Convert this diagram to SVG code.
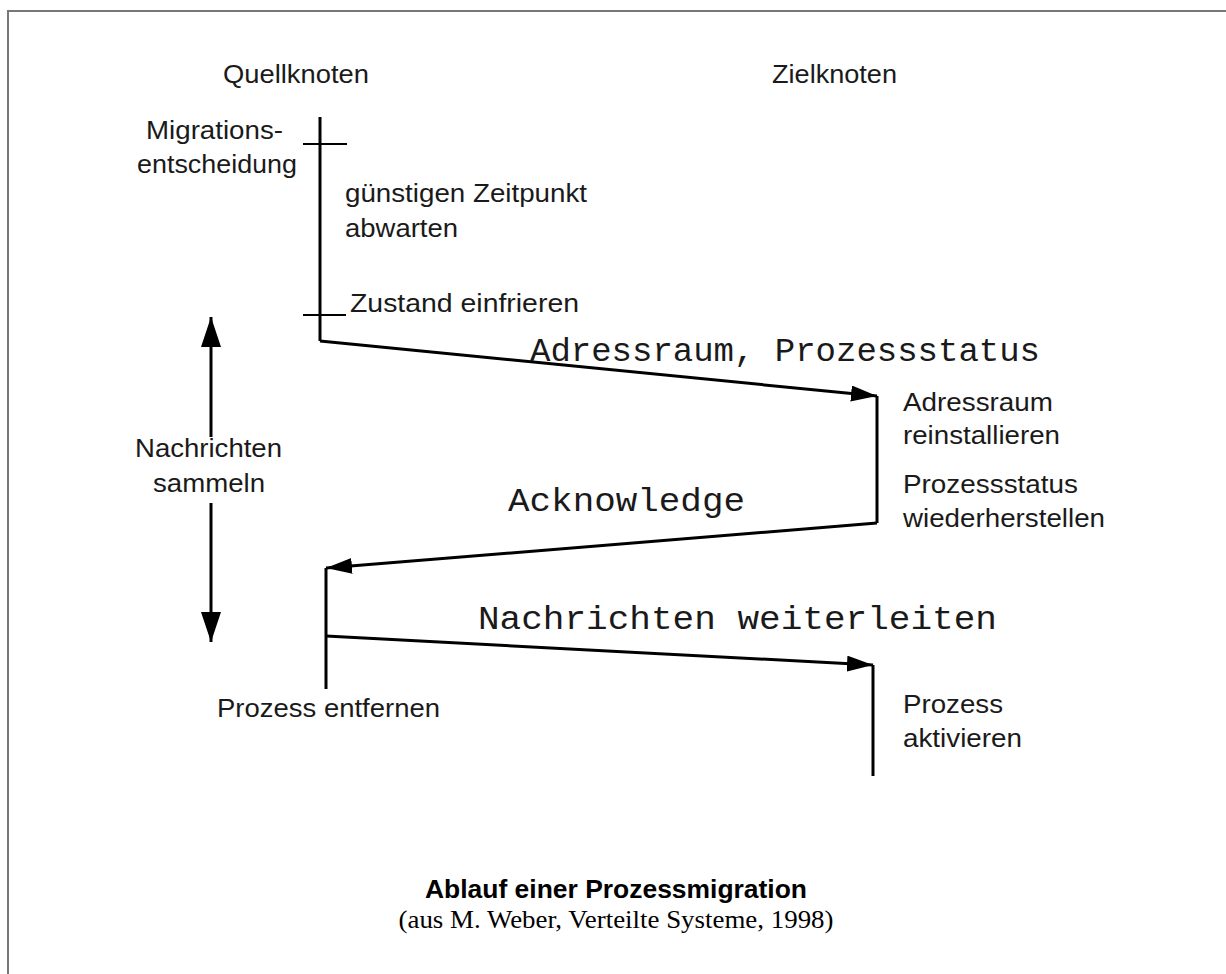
<svg xmlns="http://www.w3.org/2000/svg" width="1226" height="974" viewBox="0 0 1226 974">
  <style>
    .lbl { font-family: "Liberation Sans", Arial, sans-serif; font-size: 25px; fill: #1a1a1a; }
    .msg { font-family: "Liberation Mono", "Courier New", monospace; font-size: 34px; fill: #1a1a1a; }
    .line { stroke: #000; stroke-width: 3; fill: none; }
    .thin { stroke: #000; stroke-width: 2; fill: none; }
    .frame { stroke: #777; stroke-width: 2; fill: none; }
    .title { font-family: "Liberation Sans", Arial, sans-serif; font-size: 26px; font-weight: bold; fill: #000; }
    .src { font-family: "Liberation Serif", "Times New Roman", serif; font-size: 26px; fill: #000; }
  </style>
  <defs>
    <marker id="head" markerUnits="userSpaceOnUse" markerWidth="28" markerHeight="18" refX="26" refY="8" orient="auto">
      <path d="M0,0 L26,8 L0,16 z" fill="#000"/>
    </marker>
    <marker id="headBig" markerUnits="userSpaceOnUse" markerWidth="32" markerHeight="22" refX="30" refY="10" orient="auto">
      <path d="M0,0 L30,10 L0,20 z" fill="#000"/>
    </marker>
  </defs>

  <rect width="1226" height="974" fill="#fff"/>
  <!-- page frame -->
  <path class="frame" d="M8,974 L8,11 L1226,11"/>

  <!-- column headers -->
  <g id="header-source">
    <text class="lbl" x="223" y="83" textLength="146" lengthAdjust="spacingAndGlyphs">Quellknoten</text>
  </g>
  <g id="header-target">
    <text class="lbl" x="772" y="83" textLength="125" lengthAdjust="spacingAndGlyphs">Zielknoten</text>
  </g>

  <!-- timelines and messages -->
  <g id="connectors">
    <!-- source timeline, top part -->
    <path class="line" d="M320,117 L320,341"/>
    <path class="thin" d="M303,144 L347,144"/>
    <path class="thin" d="M303,315 L346,315"/>
    <!-- Adressraum, Prozessstatus -->
    <path class="line" d="M320,341 L877,396" marker-end="url(#head)"/>
    <!-- target timeline, first part -->
    <path class="line" d="M877,396 L877,523"/>
    <!-- Acknowledge -->
    <path class="line" d="M877,523 L326,568" marker-end="url(#head)"/>
    <!-- source timeline, lower part -->
    <path class="line" d="M326,568 L326,689"/>
    <!-- Nachrichten weiterleiten -->
    <path class="line" d="M326,636 L873,665" marker-end="url(#head)"/>
    <!-- target timeline, lower part -->
    <path class="line" d="M873,665 L873,776"/>
    <!-- collecting interval -->
    <path class="line" d="M211,437 L211,317" marker-end="url(#headBig)"/>
    <path class="line" d="M211,503 L211,642" marker-end="url(#headBig)"/>
  </g>

  <g id="migration-decision">
    <text class="lbl" x="146" y="139" textLength="137" lengthAdjust="spacingAndGlyphs">Migrations-</text>
    <text class="lbl" x="137" y="173" textLength="160" lengthAdjust="spacingAndGlyphs">entscheidung</text>
  </g>
  <g id="wait">
    <text class="lbl" x="345" y="202" textLength="242" lengthAdjust="spacingAndGlyphs">günstigen Zeitpunkt</text>
    <text class="lbl" x="345" y="237" textLength="113" lengthAdjust="spacingAndGlyphs">abwarten</text>
  </g>
  <g id="freeze">
    <text class="lbl" x="350" y="312" textLength="229" lengthAdjust="spacingAndGlyphs">Zustand einfrieren</text>
  </g>
  <g id="msg-state">
    <text class="msg" x="530" y="361" textLength="510" lengthAdjust="spacingAndGlyphs">Adressraum, Prozessstatus</text>
  </g>
  <g id="reinstall">
    <text class="lbl" x="903" y="411" textLength="150" lengthAdjust="spacingAndGlyphs">Adressraum</text>
    <text class="lbl" x="903" y="444" textLength="157" lengthAdjust="spacingAndGlyphs">reinstallieren</text>
  </g>
  <g id="restore">
    <text class="lbl" x="903" y="493" textLength="175" lengthAdjust="spacingAndGlyphs">Prozessstatus</text>
    <text class="lbl" x="903" y="527" textLength="202" lengthAdjust="spacingAndGlyphs">wiederherstellen</text>
  </g>
  <g id="msg-ack">
    <text class="msg" x="508" y="511" textLength="237" lengthAdjust="spacingAndGlyphs">Acknowledge</text>
  </g>
  <g id="collect">
    <text class="lbl" x="135" y="457" textLength="147" lengthAdjust="spacingAndGlyphs">Nachrichten</text>
    <text class="lbl" x="153" y="492" textLength="112" lengthAdjust="spacingAndGlyphs">sammeln</text>
  </g>
  <g id="msg-forward">
    <text class="msg" x="478" y="629" textLength="519" lengthAdjust="spacingAndGlyphs">Nachrichten weiterleiten</text>
  </g>
  <g id="remove">
    <text class="lbl" x="217" y="717" textLength="223" lengthAdjust="spacingAndGlyphs">Prozess entfernen</text>
  </g>
  <g id="activate">
    <text class="lbl" x="903" y="713" textLength="100" lengthAdjust="spacingAndGlyphs">Prozess</text>
    <text class="lbl" x="903" y="747" textLength="119" lengthAdjust="spacingAndGlyphs">aktivieren</text>
  </g>

  <!-- caption -->
  <g id="caption">
    <text class="title" x="616" y="898" text-anchor="middle" textLength="382" lengthAdjust="spacingAndGlyphs">Ablauf einer Prozessmigration</text>
    <text class="src" x="616" y="928" text-anchor="middle" textLength="435" lengthAdjust="spacingAndGlyphs">(aus M. Weber, Verteilte Systeme, 1998)</text>
  </g>
</svg>
